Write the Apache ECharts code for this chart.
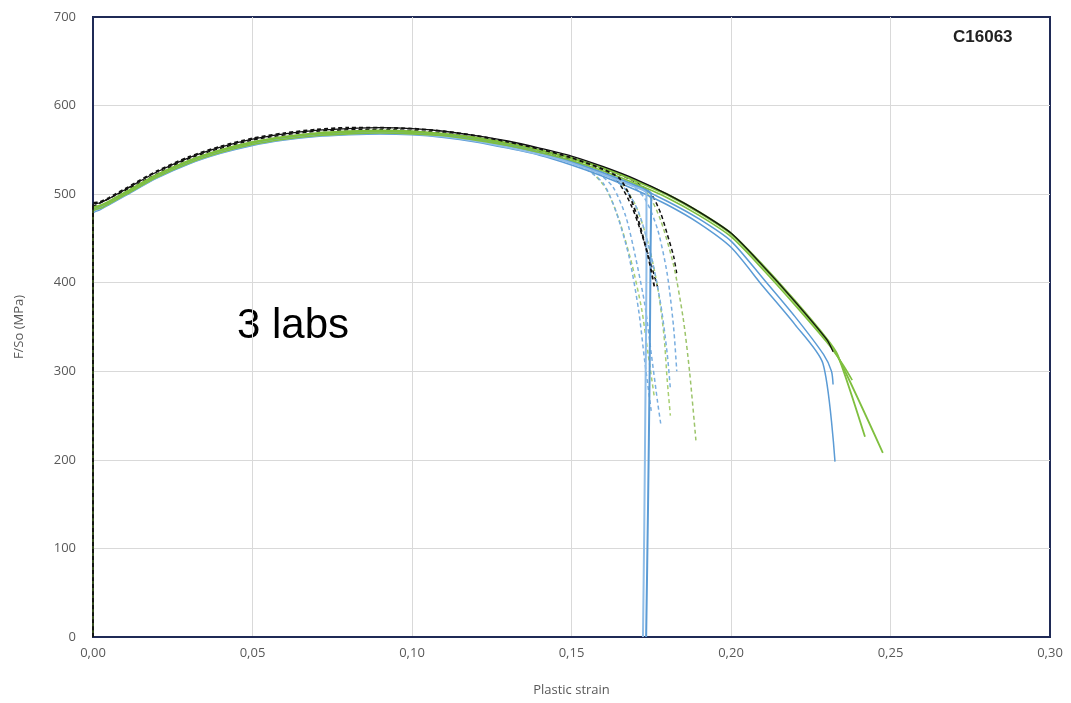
<!DOCTYPE html>
<html>
<head>
<meta charset="utf-8">
<title>C16063 – F/So vs plastic strain</title>
<script src="https://cdn.jsdelivr.net/npm/echarts@6/dist/echarts.min.js"></script>
<style>
  html, body { margin: 0; padding: 0; background: #ffffff; }
  #chart { width: 1071px; height: 703px; }
</style>
</head>
<body>
<div id="chart"></div>
<script>
// Axis ticks
var xTicks = [0, 0.05, 0.10, 0.15, 0.20, 0.25, 0.30];
var yTicks = [0, 100, 200, 300, 400, 500, 600, 700];

// Test curves: [plastic strain, F/So in MPa]
var blackSolid1 = [[0,0],[0,488],[0.002,490],[0.005,495],[0.01,505],[0.02,525],[0.03,541],[0.04,553],[0.05,562],[0.06,568],[0.07,572],[0.08,574],[0.09,575],[0.10,574],[0.11,571],[0.12,566],[0.13,560],[0.14,552],[0.15,543],[0.16,531],[0.17,517],[0.18,500],[0.19,480],[0.20,456],[0.21,419],[0.22,379],[0.23,336],[0.232,322]];
var blackDash1 = [[0,0],[0,489],[0.002,491],[0.005,496],[0.01,506],[0.02,526],[0.03,542],[0.04,554],[0.05,563],[0.06,569],[0.07,573],[0.08,575],[0.09,575],[0.10,574],[0.11,571],[0.12,566],[0.13,559],[0.14,551],[0.15,541],[0.16,528],[0.165,518],[0.168,500],[0.171,470],[0.174,430],[0.176,395]];
var blackDash2 = [[0,486],[0.01,504],[0.03,540],[0.05,561],[0.07,571],[0.09,573],[0.11,569],[0.13,557],[0.15,539],[0.160,527],[0.165,512],[0.169,485],[0.172,455],[0.175,420],[0.177,395]];
var blackDash3 = [[0.15,541],[0.16,529],[0.170,514],[0.175,500],[0.178,478],[0.180,455],[0.182,430],[0.183,410]];

var greenSolid1 = [[0,0],[0,482],[0.002,486],[0.005,491],[0.01,501],[0.02,521],[0.03,537],[0.04,549],[0.05,558],[0.06,564],[0.07,568],[0.08,570],[0.09,571],[0.10,570],[0.11,568],[0.12,563],[0.13,557],[0.14,549],[0.15,540],[0.16,529],[0.17,515],[0.18,499],[0.19,479],[0.20,455],[0.21,418],[0.22,378],[0.23,335],[0.234,313],[0.2476,208]];
var greenSolid2 = [[0,0],[0,484],[0.002,487],[0.005,492],[0.01,502],[0.02,522],[0.03,538],[0.04,550],[0.05,559],[0.06,565],[0.07,569],[0.08,571],[0.09,572],[0.10,571],[0.11,568],[0.12,564],[0.13,558],[0.14,550],[0.15,541],[0.16,530],[0.17,516],[0.18,500],[0.19,480],[0.20,456],[0.21,420],[0.22,380],[0.23,337],[0.2335,318],[0.242,226]];
var greenSolid3 = [[0,0],[0,480],[0.003,485],[0.01,499],[0.02,519],[0.03,535],[0.04,547],[0.05,556],[0.06,562],[0.07,566],[0.08,568],[0.09,569],[0.10,568],[0.11,566],[0.12,561],[0.13,555],[0.14,547],[0.15,538],[0.16,526],[0.17,512],[0.18,496],[0.19,476],[0.20,452],[0.21,415],[0.22,375],[0.23,333],[0.235,308],[0.238,290]];
var greenDash1 = [[0.14,547],[0.150,537],[0.156,526],[0.161,505],[0.165,470],[0.169,420],[0.172,370],[0.174,320],[0.176,270]];
var greenDash2 = [[0.15,539],[0.160,528],[0.165,515],[0.170,488],[0.174,445],[0.177,395],[0.179,340],[0.180,290],[0.181,250]];
var greenDash3 = [[0.16,529],[0.168,518],[0.174,500],[0.178,470],[0.182,420],[0.185,360],[0.187,300],[0.189,222]];

var blueSolid1 = [[0,0],[0,478],[0.002,482],[0.005,488],[0.01,498],[0.02,518],[0.03,534],[0.04,546],[0.05,555],[0.06,561],[0.07,565],[0.08,567],[0.09,568],[0.10,567],[0.11,564],[0.12,559],[0.13,552],[0.14,544],[0.15,533],[0.16,520],[0.17,505],[0.18,488],[0.19,467],[0.20,440],[0.21,396],[0.22,353],[0.2288,309],[0.2326,198]];
var blueSolid2 = [[0,0],[0,480],[0.003,486],[0.01,500],[0.02,520],[0.03,536],[0.04,548],[0.05,557],[0.06,563],[0.07,567],[0.08,569],[0.09,570],[0.10,569],[0.11,566],[0.12,561],[0.13,554],[0.14,546],[0.15,536],[0.16,523],[0.17,509],[0.18,492],[0.19,472],[0.20,447],[0.21,405],[0.22,362],[0.229,319],[0.2315,300],[0.232,285]];
var blueSolid3 = [[0,0],[0,481],[0.003,487],[0.01,501],[0.02,521],[0.03,537],[0.04,549],[0.05,558],[0.06,564],[0.07,568],[0.08,570],[0.09,571],[0.10,570],[0.11,567],[0.12,562],[0.13,556],[0.14,547],[0.15,537],[0.16,524],[0.17,510],[0.175,500],[0.1748,440],[0.1745,300],[0.174,150],[0.1734,0]];
var blueSolid4 = [[0,0],[0,479],[0.003,485],[0.01,499],[0.02,519],[0.03,535],[0.04,547],[0.05,556],[0.06,562],[0.07,566],[0.08,568],[0.09,569],[0.10,568],[0.11,565],[0.12,560],[0.13,553],[0.14,545],[0.15,535],[0.16,522],[0.17,508],[0.1735,501],[0.1735,420],[0.1732,280],[0.1728,120],[0.1724,0]];
var blueDash1 = [[0.14,545],[0.150,535],[0.155,527],[0.160,512],[0.164,480],[0.168,430],[0.171,370],[0.173,310],[0.175,255]];
var blueDash2 = [[0.15,535],[0.158,524],[0.163,508],[0.167,475],[0.170,430],[0.173,375],[0.175,320],[0.177,265],[0.178,240]];
var blueDash3 = [[0.155,530],[0.162,520],[0.167,505],[0.171,480],[0.175,430],[0.178,375],[0.180,320],[0.181,280]];
var blueDash4 = [[0.16,522],[0.168,512],[0.173,495],[0.177,460],[0.180,410],[0.182,350],[0.183,300]];

var BLACK = '#111111';
var GREEN = '#7fbf3f';
var GREEN_DASH = '#a8cf72';
var BLUE = '#5b9bd5';
var BLUE_DASH = '#79aee0';
var FRAME = '#1f2a56';

function solid(name, data, color, width) {
  return {
    name: name, type: 'line', data: data, showSymbol: false, smooth: 0.25,
    lineStyle: { color: color, width: width || 1.6 }, silent: true, animation: false
  };
}
function dashed(name, data, color, width) {
  return {
    name: name, type: 'line', data: data, showSymbol: false, smooth: 0.25,
    lineStyle: { color: color, width: width || 1.5, type: [4, 3] }, silent: true, animation: false
  };
}

var fmtX = function (v) { return v.toFixed(2).replace('.', ','); };

var chart = echarts.init(document.getElementById('chart'), null, { renderer: 'canvas' });
chart.setOption({
  backgroundColor: '#ffffff',
  animation: false,
  grid: {
    left: 93, right: 21, top: 17, bottom: 66,
    show: true, borderColor: FRAME, borderWidth: 2, backgroundColor: 'transparent'
  },
  xAxis: {
    type: 'value', min: xTicks[0], max: xTicks[xTicks.length - 1], interval: 0.05,
    name: 'Plastic strain', nameLocation: 'middle', nameGap: 47,
    nameTextStyle: { color: '#595959', fontSize: 13, fontFamily: 'Open Sans' },
    axisLine: { show: true, lineStyle: { color: FRAME, width: 2 } }, axisTick: { show: false },
    axisLabel: { color: '#595959', fontSize: 13, fontFamily: 'Open Sans', margin: 10, formatter: fmtX },
    splitLine: { show: true, showMinLine: false, showMaxLine: false, lineStyle: { color: '#d9d9d9', width: 1 } }
  },
  yAxis: {
    type: 'value', min: yTicks[0], max: yTicks[yTicks.length - 1], interval: 100,
    name: 'F/So (MPa)', nameLocation: 'middle', nameGap: 67, nameRotate: 90,
    nameTextStyle: { color: '#595959', fontSize: 13, fontFamily: 'Open Sans' },
    axisLine: { show: true, lineStyle: { color: FRAME, width: 2 } }, axisTick: { show: false },
    axisLabel: { color: '#595959', fontSize: 13, fontFamily: 'Open Sans', margin: 17 },
    splitLine: { show: true, showMinLine: false, showMaxLine: false, lineStyle: { color: '#d9d9d9', width: 1 } }
  },
  series: [
    dashed('K-d2', blackDash2, BLACK, 1.5),
    dashed('K-d3', blackDash3, BLACK, 1.5),
    dashed('G-d1', greenDash1, GREEN_DASH),
    dashed('G-d2', greenDash2, GREEN_DASH),
    dashed('G-d3', greenDash3, '#9cc46a'),
    dashed('B-d1', blueDash1, BLUE_DASH),
    dashed('B-d2', blueDash2, BLUE_DASH),
    dashed('B-d3', blueDash3, BLUE_DASH),
    dashed('B-d4', blueDash4, BLUE_DASH),
    solid('B-1', blueSolid1, BLUE, 1.5),
    solid('B-2', blueSolid2, BLUE, 1.5),
    solid('B-3', blueSolid3, BLUE, 2),
    solid('B-4', blueSolid4, '#8fbde8', 2),
    solid('G-3', greenSolid3, GREEN, 1.6),
    solid('G-2', greenSolid2, GREEN, 1.8),
    solid('G-1', greenSolid1, GREEN, 1.8),
    solid('K-1', blackSolid1, BLACK, 1.3),
    dashed('K-d1', blackDash1, BLACK, 1.8)
  ],
  graphic: [
    {
      type: 'text', left: 237, top: 305,
      style: { text: '3 labs', fill: '#000000', fontSize: 42, fontFamily: 'Liberation Sans, Arial, sans-serif' }
    },
    {
      type: 'text', left: 953, top: 29,
      style: { text: 'C16063', fill: '#222222', fontSize: 17, fontWeight: 'bold', fontFamily: 'Liberation Sans, Arial, sans-serif' }
    }
  ]
});
</script>
</body>
</html>
